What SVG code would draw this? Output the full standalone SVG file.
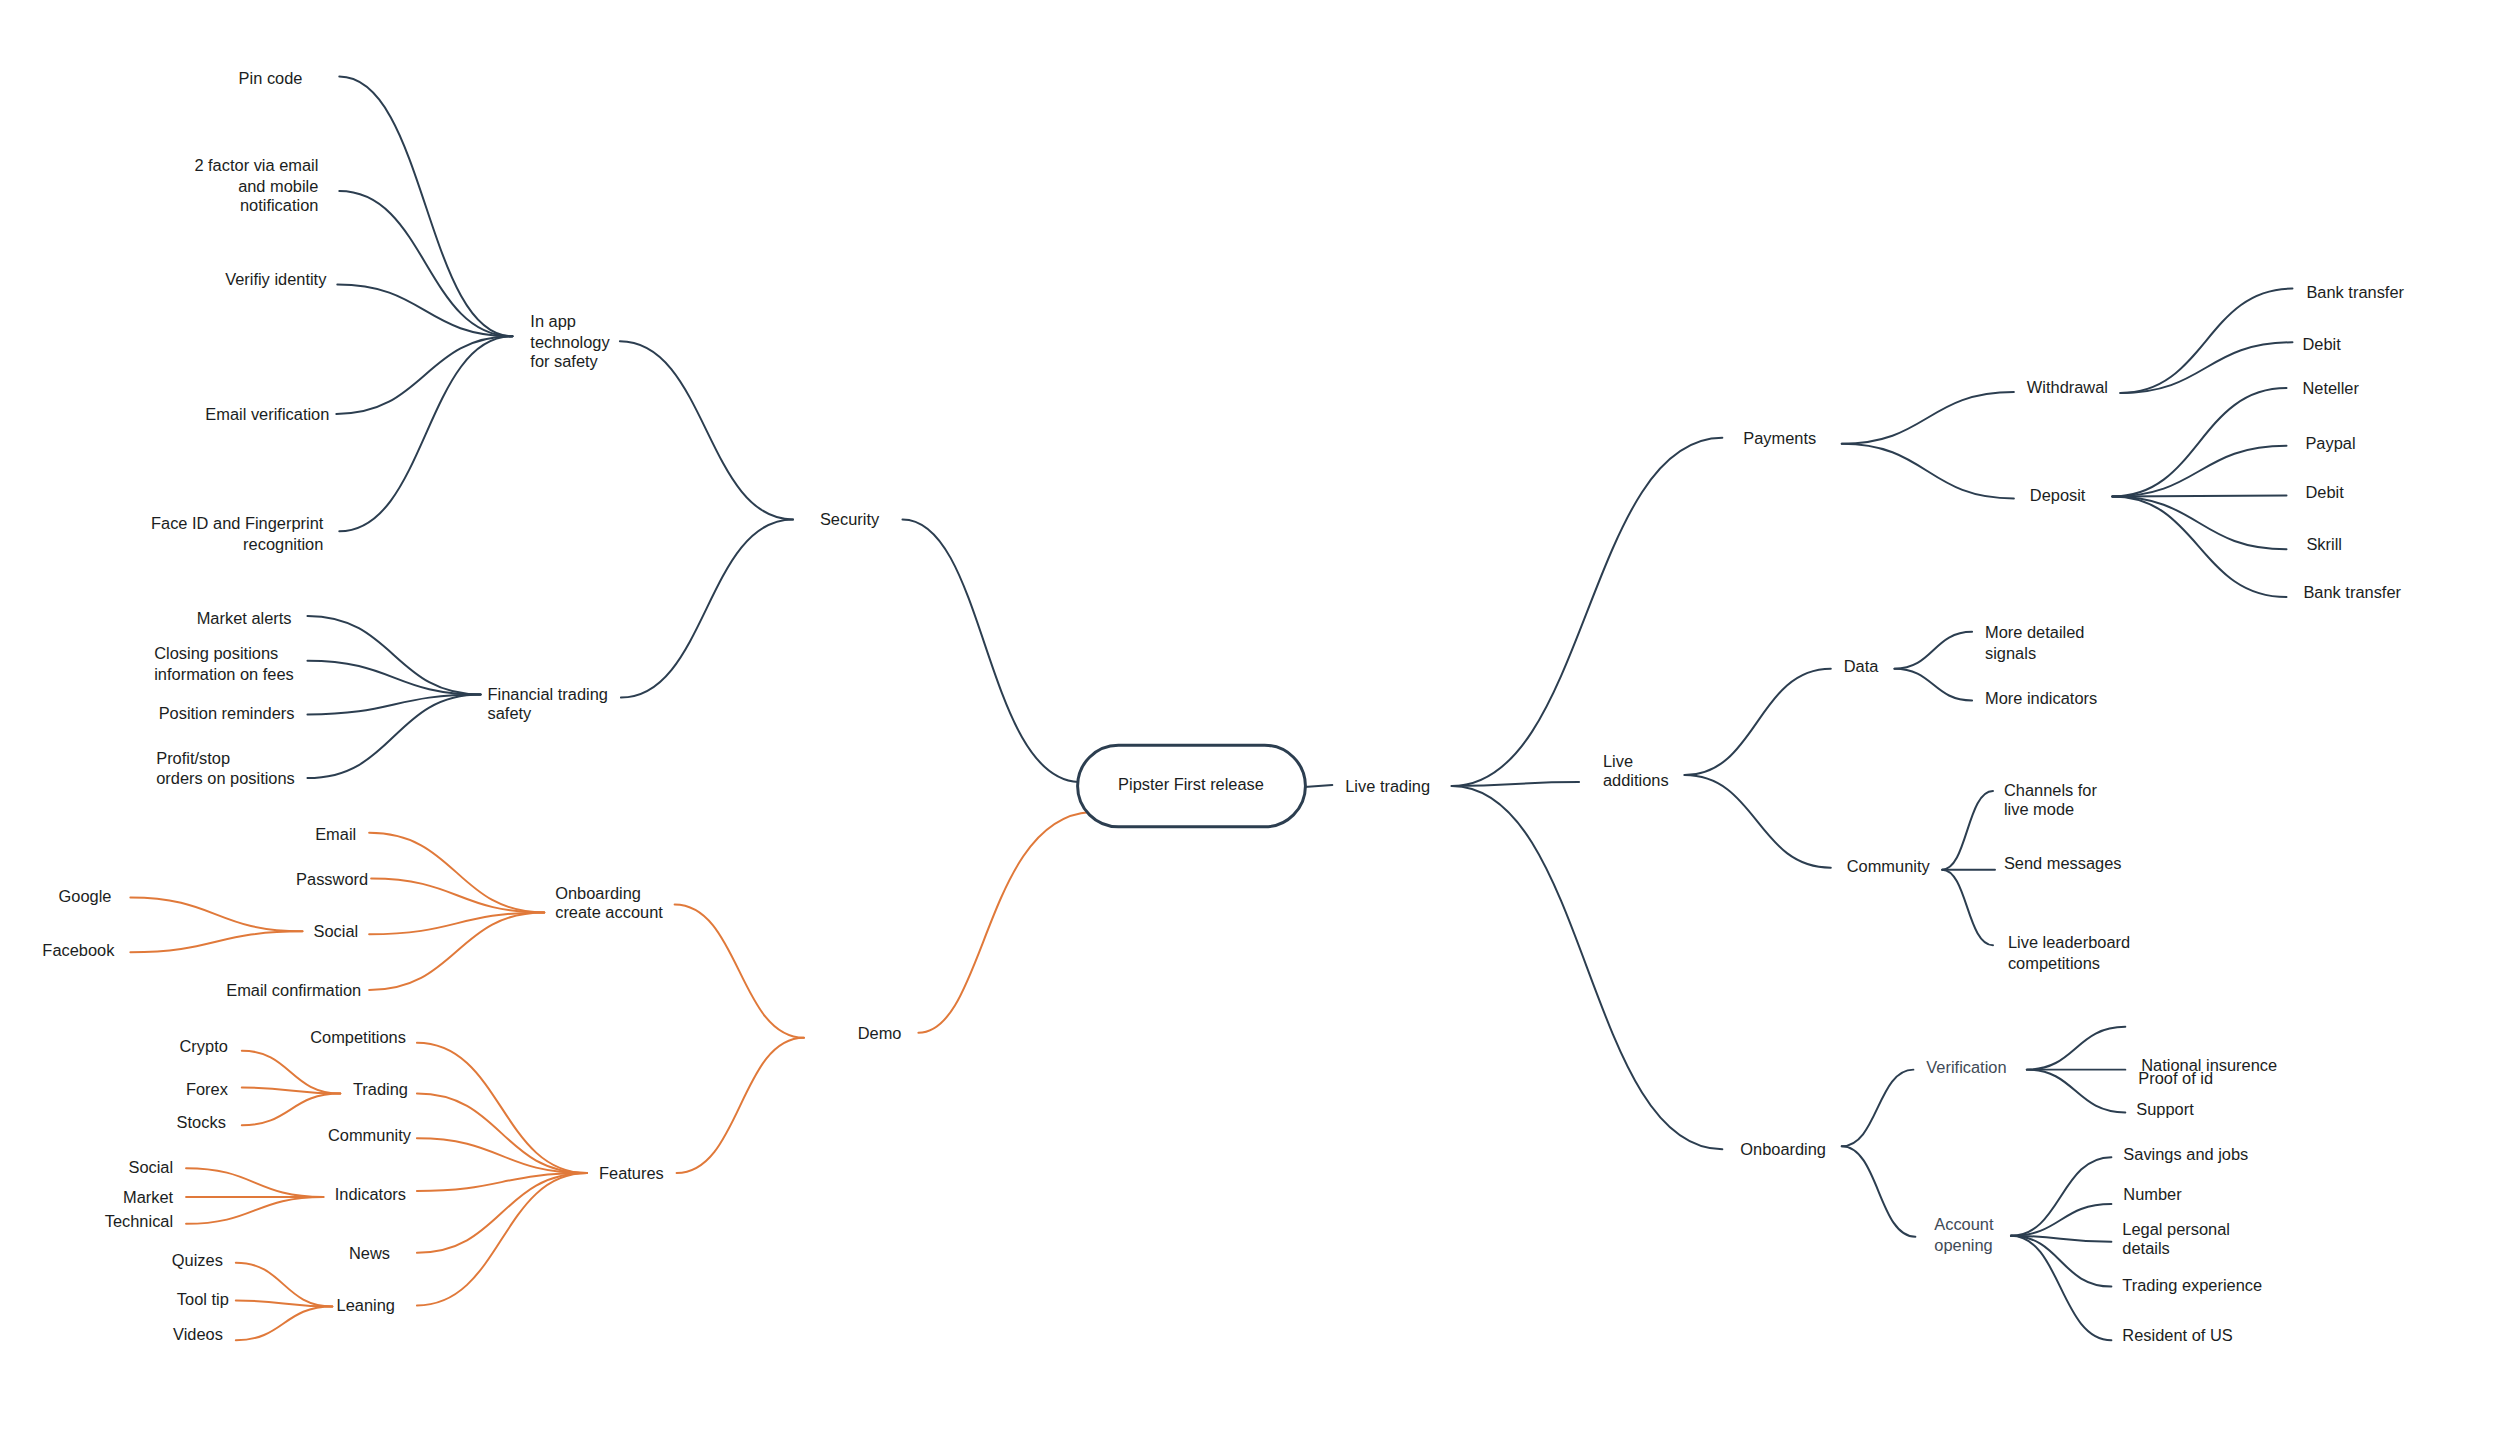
<svg xmlns="http://www.w3.org/2000/svg" width="2496" height="1440" viewBox="0 0 2496 1440">
<style>
text{font-family:"Liberation Sans",Arial,sans-serif;font-size:16.5px;fill:#1b1e22}
.e{text-anchor:end}
.m{text-anchor:middle}
.g{fill:#3f4b57}
.d path{fill:none;stroke:#2c3e50;stroke-width:2;stroke-linecap:round}
.o path{fill:none;stroke:#e0793a;stroke-width:2;stroke-linecap:round}
.pill{fill:#fff;stroke:#2c3e50;stroke-width:3}
</style>
<rect width="2496" height="1440" fill="#fff"/>
<g transform="scale(0.995)">
<g id="connectors">
<g class="d">
<path d="M341 77 C428 77 428 338 515 338"/>
<path d="M341 192 C428 192 428 338 515 338"/>
<path d="M339 286 C427 286 427 338 515 338"/>
<path d="M338 416 C427 416 427 338 515 338"/>
<path d="M341 534 C428 534 428 338 515 338"/>
<path d="M623 343 C710 343 710 522 797 522"/>
<path d="M624 701 C710 701 710 522 797 522"/>
<path d="M907 522 C990 522 990 782 1084 786"/>
<path d="M309 619 C396 619 396 698 483 698"/>
<path d="M309 664 C396 664 396 698 483 698"/>
<path d="M309 718 C396 718 396 698 483 698"/>
<path d="M309 782 C396 782 396 698 483 698"/>
<path d="M1311 791 L1339 789"/>
<path d="M1459 790 C1595 790 1595 440 1731 440"/>
<path d="M1459 790 C1523 790 1523 786 1587 786"/>
<path d="M1459 790 C1595 790 1595 1155 1731 1155"/>
<path d="M1851 446 C1937 446 1937 394 2024 394"/>
<path d="M1851 446 C1937 446 1937 501 2024 501"/>
<path d="M2131 395 C2217 395 2217 290 2304 290"/>
<path d="M2131 395 C2217 395 2217 344 2304 344"/>
<path d="M2123 499 C2210 499 2210 390 2298 390"/>
<path d="M2123 499 C2210 499 2210 448 2298 448"/>
<path d="M2123 499 C2210 499 2210 498 2298 498"/>
<path d="M2123 499 C2210 499 2210 552 2298 552"/>
<path d="M2123 499 C2210 499 2210 600 2298 600"/>
<path d="M1693 779 C1766 779 1766 672 1840 672"/>
<path d="M1693 779 C1766 779 1766 872 1840 872"/>
<path d="M1904 672 C1943 672 1943 635 1982 635"/>
<path d="M1904 672 C1943 672 1943 704 1982 704"/>
<path d="M1952 874 C1977 874 1977 795 2003 795"/>
<path d="M1952 874 C1978 874 1978 874 2005 874"/>
<path d="M1952 874 C1977 874 1977 950 2003 950"/>
<path d="M1851 1152 C1887 1152 1887 1075 1923 1075"/>
<path d="M1851 1152 C1888 1152 1888 1243 1925 1243"/>
<path d="M2037 1075 C2086 1075 2086 1032 2136 1032"/>
<path d="M2037 1075 C2086 1075 2086 1075 2136 1075"/>
<path d="M2037 1075 C2086 1075 2086 1118 2136 1118"/>
<path d="M2021 1242 C2071 1242 2071 1163 2122 1163"/>
<path d="M2021 1242 C2071 1242 2071 1210 2122 1210"/>
<path d="M2021 1242 C2071 1242 2071 1248 2122 1248"/>
<path d="M2021 1242 C2071 1242 2071 1293 2122 1293"/>
<path d="M2021 1242 C2071 1242 2071 1347 2122 1347"/>
</g>
<g class="o">
<path d="M923 1038 C990 1038 990 822 1096 816"/>
<path d="M678 909 C743 909 743 1043 808 1043"/>
<path d="M680 1179 C744 1179 744 1043 808 1043"/>
<path d="M371 837 C459 837 459 917 547 917"/>
<path d="M373 883 C460 883 460 917 547 917"/>
<path d="M371 939 C459 939 459 917 547 917"/>
<path d="M371 995 C459 995 459 917 547 917"/>
<path d="M131 902 C217 902 217 936 304 936"/>
<path d="M131 957 C217 957 217 936 304 936"/>
<path d="M419 1048 C504 1048 504 1179 590 1179"/>
<path d="M419 1099 C504 1099 504 1179 590 1179"/>
<path d="M419 1144 C504 1144 504 1179 590 1179"/>
<path d="M419 1197 C504 1197 504 1179 590 1179"/>
<path d="M419 1259 C504 1259 504 1179 590 1179"/>
<path d="M419 1312 C504 1312 504 1179 590 1179"/>
<path d="M243 1056 C292 1056 292 1099 342 1099"/>
<path d="M243 1093 C292 1093 292 1099 342 1099"/>
<path d="M243 1131 C292 1131 292 1099 342 1099"/>
<path d="M187 1174 C256 1174 256 1203 325 1203"/>
<path d="M187 1203 C256 1203 256 1203 325 1203"/>
<path d="M187 1230 C256 1230 256 1203 325 1203"/>
<path d="M237 1269 C285 1269 285 1313 334 1313"/>
<path d="M237 1307 C285 1307 285 1313 334 1313"/>
<path d="M237 1347 C285 1347 285 1313 334 1313"/>
</g>
</g>
<g id="root"><rect class="pill" x="1083" y="749" width="229" height="82" rx="41"/><text class="m" x="1197" y="794">Pipster First release</text></g>
<g id="security"><text x="824" y="528">Security</text></g>
<g id="inapp"><text x="533" y="329">In app</text><text x="533" y="350">technology</text><text x="533" y="369">for safety</text></g>
<g id="pincode"><text class="e" x="304" y="84">Pin code</text></g>
<g id="twofactor"><text class="e" x="320" y="172">2 factor via email</text><text class="e" x="320" y="193">and mobile</text><text class="e" x="320" y="212">notification</text></g>
<g id="verifyid"><text class="e" x="328" y="286">Verifiy identity</text></g>
<g id="emailverif"><text class="e" x="331" y="422">Email verification</text></g>
<g id="faceid"><text class="e" x="325" y="532">Face ID and Fingerprint</text><text class="e" x="325" y="553">recognition</text></g>
<g id="fints"><text x="490" y="704">Financial trading</text><text x="490" y="723">safety</text></g>
<g id="marketalerts"><text class="e" x="293" y="627">Market alerts</text></g>
<g id="closing"><text x="155" y="662">Closing positions</text><text x="155" y="683">information on fees</text></g>
<g id="posrem"><text class="e" x="296" y="723">Position reminders</text></g>
<g id="profit"><text x="157" y="768">Profit/stop</text><text x="157" y="788">orders on positions</text></g>
<g id="demo"><text x="862" y="1044">Demo</text></g>
<g id="onbcreate"><text x="558" y="904">Onboarding</text><text x="558" y="923">create account</text></g>
<g id="email"><text class="e" x="358" y="844">Email</text></g>
<g id="password"><text class="e" x="370" y="889">Password</text></g>
<g id="social"><text class="e" x="360" y="942">Social</text></g>
<g id="emailconf"><text class="e" x="363" y="1001">Email confirmation</text></g>
<g id="google"><text class="e" x="112" y="907">Google</text></g>
<g id="facebook"><text class="e" x="115" y="961">Facebook</text></g>
<g id="features"><text x="602" y="1185">Features</text></g>
<g id="competitions"><text class="e" x="408" y="1048">Competitions</text></g>
<g id="trading"><text class="e" x="410" y="1100">Trading</text></g>
<g id="community1"><text class="e" x="413" y="1147">Community</text></g>
<g id="indicators"><text class="e" x="408" y="1206">Indicators</text></g>
<g id="news"><text class="e" x="392" y="1265">News</text></g>
<g id="leaning"><text class="e" x="397" y="1318">Leaning</text></g>
<g id="crypto"><text class="e" x="229" y="1057">Crypto</text></g>
<g id="forex"><text class="e" x="229" y="1100">Forex</text></g>
<g id="stocks"><text class="e" x="227" y="1134">Stocks</text></g>
<g id="socialind"><text class="e" x="174" y="1179">Social</text></g>
<g id="market"><text class="e" x="174" y="1209">Market</text></g>
<g id="technical"><text class="e" x="174" y="1233">Technical</text></g>
<g id="quizes"><text class="e" x="224" y="1272">Quizes</text></g>
<g id="tooltip"><text class="e" x="230" y="1312">Tool tip</text></g>
<g id="videos"><text class="e" x="224" y="1347">Videos</text></g>
<g id="livetrading"><text x="1352" y="796">Live trading</text></g>
<g id="payments"><text x="1752" y="446">Payments</text></g>
<g id="withdrawal"><text x="2037" y="395">Withdrawal</text></g>
<g id="deposit"><text x="2040" y="504">Deposit</text></g>
<g id="wbank"><text x="2318" y="299">Bank transfer</text></g>
<g id="wdebit"><text x="2314" y="352">Debit</text></g>
<g id="neteller"><text x="2314" y="396">Neteller</text></g>
<g id="paypal"><text x="2317" y="451">Paypal</text></g>
<g id="ddebit"><text x="2317" y="500">Debit</text></g>
<g id="skrill"><text x="2318" y="553">Skrill</text></g>
<g id="dbank"><text x="2315" y="601">Bank transfer</text></g>
<g id="liveadd"><text x="1611" y="771">Live</text><text x="1611" y="790">additions</text></g>
<g id="data"><text x="1853" y="675">Data</text></g>
<g id="community2"><text x="1856" y="876">Community</text></g>
<g id="moredetailed"><text x="1995" y="641">More detailed</text><text x="1995" y="662">signals</text></g>
<g id="moreind"><text x="1995" y="708">More indicators</text></g>
<g id="channels"><text x="2014" y="800">Channels for</text><text x="2014" y="819">live mode</text></g>
<g id="sendmsg"><text x="2014" y="873">Send messages</text></g>
<g id="leaderboard"><text x="2018" y="953">Live leaderboard</text><text x="2018" y="974">competitions</text></g>
<g id="onboarding"><text x="1749" y="1161">Onboarding</text></g>
<g id="verification"><text class="g" x="1936" y="1078">Verification</text></g>
<g id="accopen"><text class="g" x="1944" y="1236">Account</text><text class="g" x="1944" y="1257">opening</text></g>
<g id="natins"><text x="2152" y="1076">National insurence</text></g>
<g id="proofid"><text x="2149" y="1089">Proof of id</text></g>
<g id="support"><text x="2147" y="1121">Support</text></g>
<g id="savings"><text x="2134" y="1166">Savings and jobs</text></g>
<g id="number"><text x="2134" y="1206">Number</text></g>
<g id="legal"><text x="2133" y="1241">Legal personal</text><text x="2133" y="1260">details</text></g>
<g id="tradexp"><text x="2133" y="1297">Trading experience</text></g>
<g id="resident"><text x="2133" y="1348">Resident of US</text></g>
</g>
</svg>
